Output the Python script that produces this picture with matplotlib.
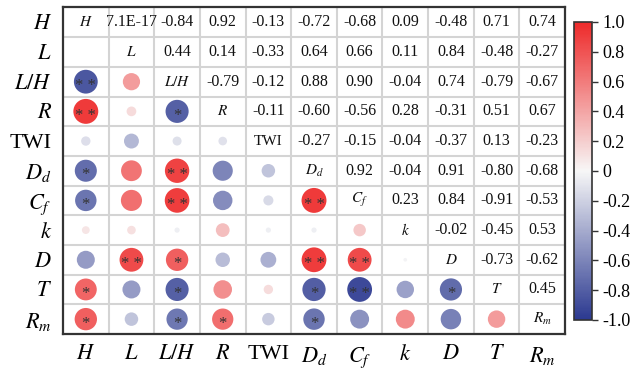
import matplotlib
matplotlib.use('Agg')
import matplotlib.pyplot as plt
import numpy as np
from matplotlib.colors import LinearSegmentedColormap, Normalize
from matplotlib.cm import ScalarMappable

plt.rcParams['font.family'] = ['Liberation Serif', 'DejaVu Serif']
plt.rcParams['mathtext.fontset'] = 'stix'

# variable names (axis labels) and names written on the diagonal
labels = [r'$H$', r'$L$', r'$L/H$', r'$R$', 'TWI', r'$D_d$', r'$C_f$', r'$k$', r'$D$', r'$T$', r'$R_m$']
diag_labels = [r'$H$', r'$L$', r'$L/H$', r'$R$', 'TWI', r'$D_d$', r'$C_f$', r'$k$', r'$D$', r'$T$', r'$R_m$']

# upper triangle correlation coefficients, row by row
upper_rows = [
    [7.1e-17, -0.84, 0.92, -0.13, -0.72, -0.68, 0.09, -0.48, 0.71, 0.74],
    [0.44, 0.14, -0.33, 0.64, 0.66, 0.11, 0.84, -0.48, -0.27],
    [-0.79, -0.12, 0.88, 0.90, -0.04, 0.74, -0.79, -0.67],
    [-0.11, -0.60, -0.56, 0.28, -0.31, 0.51, 0.67],
    [-0.27, -0.15, -0.04, -0.37, 0.13, -0.23],
    [0.92, -0.04, 0.91, -0.80, -0.68],
    [0.23, 0.84, -0.91, -0.53],
    [-0.02, -0.45, 0.53],
    [-0.73, -0.62],
    [0.45],
]

# significance marks for the lower triangle, row by row (row i has i entries)
stars_rows = [
    [],
    [''],
    ['**', ''],
    ['**', '', '*'],
    ['', '', '', ''],
    ['*', '', '**', '', ''],
    ['*', '', '**', '', '', '**'],
    ['', '', '', '', '', '', ''],
    ['', '**', '*', '', '', '**', '**', ''],
    ['*', '', '*', '', '', '*', '**', '', '*'],
    ['*', '', '*', '*', '', '*', '', '', '', ''],
]

n = len(labels)
corr = np.eye(n)
for i, row in enumerate(upper_rows):
    for k, v in enumerate(row):
        j = i + 1 + k
        corr[i, j] = v
        corr[j, i] = v

cmap = LinearSegmentedColormap.from_list('rwb', ['#2B3990', '#F7F7F7', '#EE2A2A'])
norm = Normalize(-1, 1)

fig = plt.figure(figsize=(6.35, 3.69), dpi=100)
ax = fig.add_axes([0.0992, 0.0949, 0.7906, 0.8848])

# grid lines
for p in np.arange(0.5, n - 1, 1.0):
    ax.axhline(p, color='#d4d4d4', lw=1.5, zorder=0)
    ax.axvline(p, color='#d4d4d4', lw=1.5, zorder=0)

# lower triangle: circles with area proportional to |r|
xs, ys, vals = [], [], []
for i in range(n):
    for j in range(i):
        xs.append(j)
        ys.append(i)
        vals.append(corr[i, j])
vals = np.array(vals)
ax.scatter(xs, ys, s=350 * np.abs(vals), c=vals, cmap=cmap, norm=norm, linewidths=0, zorder=2)

for i in range(n):
    for j, st in enumerate(stars_rows[i]):
        if st:
            ax.text(j, i + 0.15, ' '.join(st), ha='center', va='center', fontsize=12, color='#333333', zorder=3)

# upper triangle: numbers
for i in range(n):
    for j in range(i + 1, n):
        v = corr[i, j]
        if abs(v) < 1e-3:
            s = f'{v:.1E}'
        else:
            s = f'{v:.2f}'
        ax.text(j, i, s, ha='center', va='center', fontsize=11.5, color='#111111')

# diagonal names
for i in range(n):
    ax.text(i, i, diag_labels[i], ha='center', va='center', fontsize=11, color='#111111')

ax.set_xlim(-0.5, n - 0.5)
ax.set_ylim(n - 0.5, -0.5)
ax.set_xticks(range(n))
ax.set_yticks(range(n))
ax.set_xticklabels(labels, fontsize=16)
ax.set_yticklabels(labels, fontsize=16)
ax.tick_params(length=0, pad=8)
for sp in ax.spines.values():
    sp.set_color('#333333')
    sp.set_linewidth(1.6)

# colorbar
cax = fig.add_axes([0.904, 0.1328, 0.0283, 0.8076])
cb = fig.colorbar(ScalarMappable(norm=norm, cmap=cmap), cax=cax)
ticks = [1.0, 0.8, 0.6, 0.4, 0.2, 0, -0.2, -0.4, -0.6, -0.8, -1.0]
tick_labels = ['1.0', '0.8', '0.6', '0.4', '0.2', '0', '-0.2', '-0.4', '-0.6', '-0.8', '-1.0']
cb.set_ticks(ticks)
cb.set_ticklabels(tick_labels)
cb.ax.tick_params(labelsize=13, length=4, width=1, color='#333333')
cb.outline.set_edgecolor('#333333')
cb.outline.set_linewidth(1.2)

fig.savefig('out.png', dpi=100)
